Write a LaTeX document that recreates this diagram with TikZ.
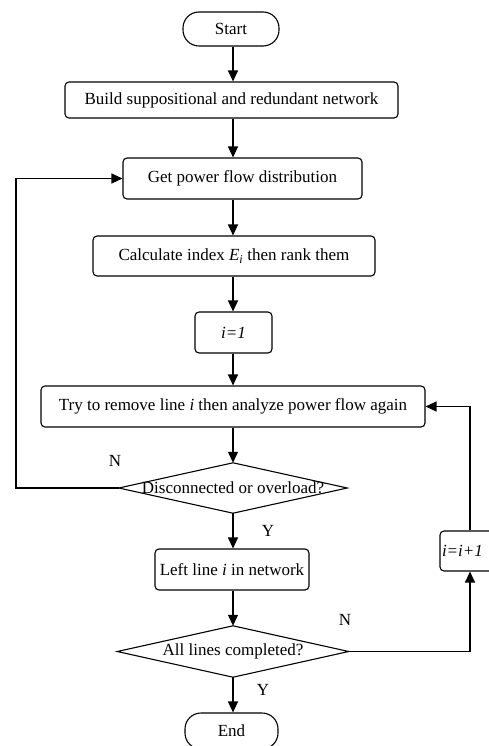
\documentclass[tikz,border=0pt]{standalone}
\usepackage{fontspec}
\setmainfont{Liberation Serif}
\usetikzlibrary{arrows.meta}
\begin{document}
\begin{tikzpicture}[x=1pt,y=-1pt,
  font=\fontsize{17}{20}\selectfont,
  box/.style={draw, line width=1.1pt, rounded corners=4pt, inner sep=0pt},
  term/.style={draw, line width=1.1pt, rounded corners=16pt, inner sep=0pt},
  dec/.style={inner sep=0pt},
  lbl/.style={inner sep=0pt},
  dline/.style={line width=1.1pt, line join=miter},
  arr/.style={line width=1.2pt, -{Triangle[length=11pt,width=10pt]}},
  ln/.style={line width=1.2pt}]
\useasboundingbox (0,0) rectangle (489,746);
\clip (0,0) rectangle (489,746);
\fill[white] (0,0) rectangle (489,746);

\coordinate (col) at (233,0);
\coordinate (cl) at (16,488);

\node[term, minimum width=96pt, minimum height=34pt] (start) at (231,29) {Start};
\node[box, minimum width=333pt, minimum height=36pt] (build) at (231.5,100) {Build suppositional and redundant network};
\node[box, minimum width=239pt, minimum height=41pt] (get) at (242.5,178.5) {Get power flow distribution};
\node[box, minimum width=282pt, minimum height=40pt] (calc) at (234,256) {Calculate index \textit{E}\textsubscript{\textit{i}} then rank them};
\node[box, minimum width=77pt, minimum height=41pt] (i1) at (233.5,332.5) {\textit{i=1}};
\node[box, minimum width=384pt, minimum height=41pt] (try) at (233,406.5) {Try to remove line \textit{i} then analyze power flow again};
\node[dec, minimum width=228pt, minimum height=50pt] (d1) at (233,488) {Disconnected or overload?};
\draw[dline] (d1.north) -- (d1.east) -- (d1.south) -- (d1.west) -- cycle;
\node[box, minimum width=154pt, minimum height=41pt] (left) at (232,569.5) {Left line \textit{i} in network};
\node[dec, minimum width=231pt, minimum height=51pt] (d2) at (233,651.5) {All lines completed?};
\draw[dline] (d2.north) -- (d2.east) -- (d2.south) -- (d2.west) -- cycle;
\node[box, minimum width=60pt, minimum height=40pt, text width=56pt, align=left] (inc) at (470,551) {\textit{i=i+1}};
\node[term, minimum width=93pt, minimum height=36pt] (end) at (231.5,731) {End};

\node[lbl] (n1) at (115,461) {N};
\node[lbl] (y1) at (268,531) {Y};
\node[lbl] (n2) at (345,620) {N};
\node[lbl] (y2) at (263,690) {Y};

\draw[arr] (col |- start.south) -- (col |- build.north);
\draw[arr] (col |- build.south) -- (col |- get.north);
\draw[arr] (col |- get.south) -- (col |- calc.north);
\draw[arr] (col |- calc.south) -- (col |- i1.north);
\draw[arr] (col |- i1.south) -- (col |- try.north);
\draw[arr] (col |- try.south) -- (d1.north);
\draw[arr] (d1.south) -- (col |- left.north);
\draw[arr] (col |- left.south) -- (d2.north);
\draw[arr] (d2.south) -- (col |- end.north);
\draw[arr] (d1.west) -- (cl) |- (get.west);
\draw[arr] (d2.east) -| (inc.south);
\draw[arr] (inc.north) |- (try.east);
\end{tikzpicture}
\end{document}
